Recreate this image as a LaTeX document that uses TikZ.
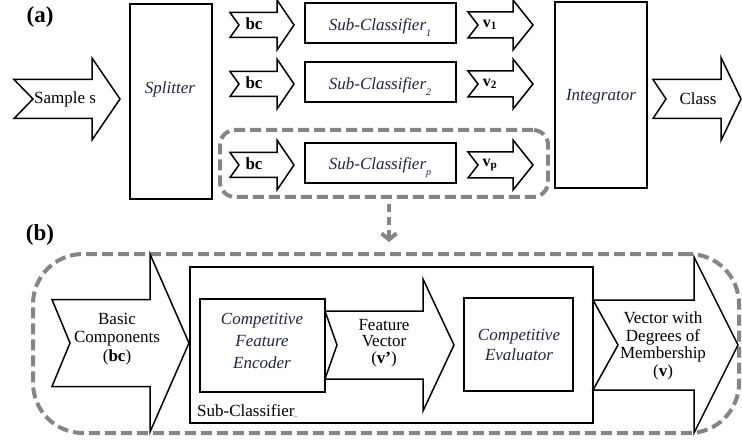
\documentclass[tikz,border=0pt]{standalone}
\usepackage{fontspec}
\setmainfont{Liberation Serif}
\usetikzlibrary{arrows.meta,positioning}
\definecolor{dgray}{HTML}{858585}
\definecolor{tink}{HTML}{24243A}
% block arrow: left x, notch depth, head start, tip, centre y, body half, head half
\newcommand{\blkarrow}[7]{%
 \draw[barrow] (#1,#5-#6) -- (#3,#5-#6) -- (#3,#5-#7) -- (#4,#5) -- (#3,#5+#7)
  -- (#3,#5+#6) -- (#1,#5+#6) -- (#1+#2,#5) -- cycle;}
\newcommand{\lowsub}[1]{\raisebox{-6pt}{\fontsize{10}{10}\selectfont #1}}

\begin{document}
\begin{tikzpicture}[x=1pt,y=-1pt,
 box/.style={draw, line width=2.2pt, inner sep=0pt},
 dbox/.style={draw=dgray, line width=4pt, dash pattern=on 11pt off 5pt, rounded corners=#1},
 dbox/.default=15pt,
 barrow/.style={draw, fill=white, line width=1.5pt, line join=miter},
 txt/.style={font=\fontsize{17}{17}\selectfont, align=center, inner sep=0pt},
 itxt/.style={txt, font=\fontsize{17}{#1}\selectfont\itshape, text=tink},
 itxt/.default=20pt]
 \useasboundingbox (0,0) rectangle (742,441);
 % (a) whole classifier
 \node[dbox, minimum width=328pt, minimum height=67pt] (grpa) at (384,163.5) {};
 \node[txt, font=\fontsize{23}{23}\selectfont\bfseries] (lbla) at (40,17) {(a)};
 \blkarrow{14}{19}{92}{120}{99}{19.5}{41}
 \node[txt] (smp) at (65,99) {Sample s};
 \node[box, minimum width=82pt, minimum height=195pt] (spl) at (171,101.5) {};
 \node[itxt] (spltxt) at (170,89) {Splitter};
 \foreach \cy/\sub/\n in {25/1/1, 84/2/2, 165/p/3}{
  \blkarrow{230}{9}{277}{294}{\cy}{12.5}{25}
  \node[txt, font=\fontsize{17}{17}\selectfont\bfseries] (bc\n) at (254,\cy-1) {bc};
  \node[box, minimum width=151pt, minimum height=40pt] (sc\n) at (380.5,\cy-2) {};
  \node[itxt] (sct\n) at (380,\cy+3) {Sub-Classifier\lowsub{\sub}};
  \blkarrow{468}{10}{513}{533}{\cy}{13}{25}
  \node[txt, font=\fontsize{16}{16}\selectfont\bfseries] (v\n) at (490,\cy) {v\textsubscript{\sub}};
 }
 \node[box, minimum width=92pt, minimum height=186pt] (intg) at (601,95) {};
 \node[itxt] (intgtxt) at (601,97) {Integrator};
 \blkarrow{653}{13}{721}{741}{99}{19.5}{41.5}
 \node[txt] (cls) at (698,99) {Class};

 % (b) one sub-classifier
 \node[txt, font=\fontsize{23}{23}\selectfont\bfseries] (lblb) at (40,235) {(b)};
 \node[dbox=50pt, minimum width=706pt, minimum height=179pt] (grpb) at (386,343.5) {};
 \draw[draw=dgray, line width=4pt, dash pattern=on 8pt off 5pt, shorten <=5pt, shorten >=10pt,
  -{Straight Barb[length=6pt,width=15pt]}] ([xshift=5pt]grpa.south) -- ([xshift=5pt]grpa.south |- grpb.north);
 \blkarrow{52}{18}{150}{189}{343}{43.5}{89}
 \node[txt, font=\fontsize{17}{18.5}\selectfont] (basic) at (117,339) {Basic\\Components\\(\textbf{bc})};
 \blkarrow{325}{12}{423}{454}{345}{34}{66}
 \node[txt, font=\fontsize{17}{16.5}\selectfont] (fvec) at (384,343) {Feature\\Vector\\(\textbf{v’})};
 \blkarrow{593}{25}{694}{738}{345}{45}{88}
 \node[txt, font=\fontsize{17}{17.5}\selectfont] (dvec) at (663,346) {Vector with\\Degrees of\\Membership\\(\textbf{v})};
 \node[box, line width=2.8pt, minimum width=403pt, minimum height=156pt] (scb) at (391.5,345) {};
 \node[txt, anchor=base west] (scblbl) at (197,416) {Sub-Classifier{\fontsize{6}{6}\selectfont\_}};
 \node[box, minimum width=125pt, minimum height=93pt] (enc) at (262.5,345.5) {};
 \node[itxt=22pt] (enctxt) at (262,341) {Competitive\\Feature\\Encoder};
 \node[box, minimum width=109pt, minimum height=93pt] (evl) at (518.5,344.5) {};
 \node[itxt] (evltxt) at (519,345) {Competitive\\Evaluator};
\end{tikzpicture}
\end{document}
